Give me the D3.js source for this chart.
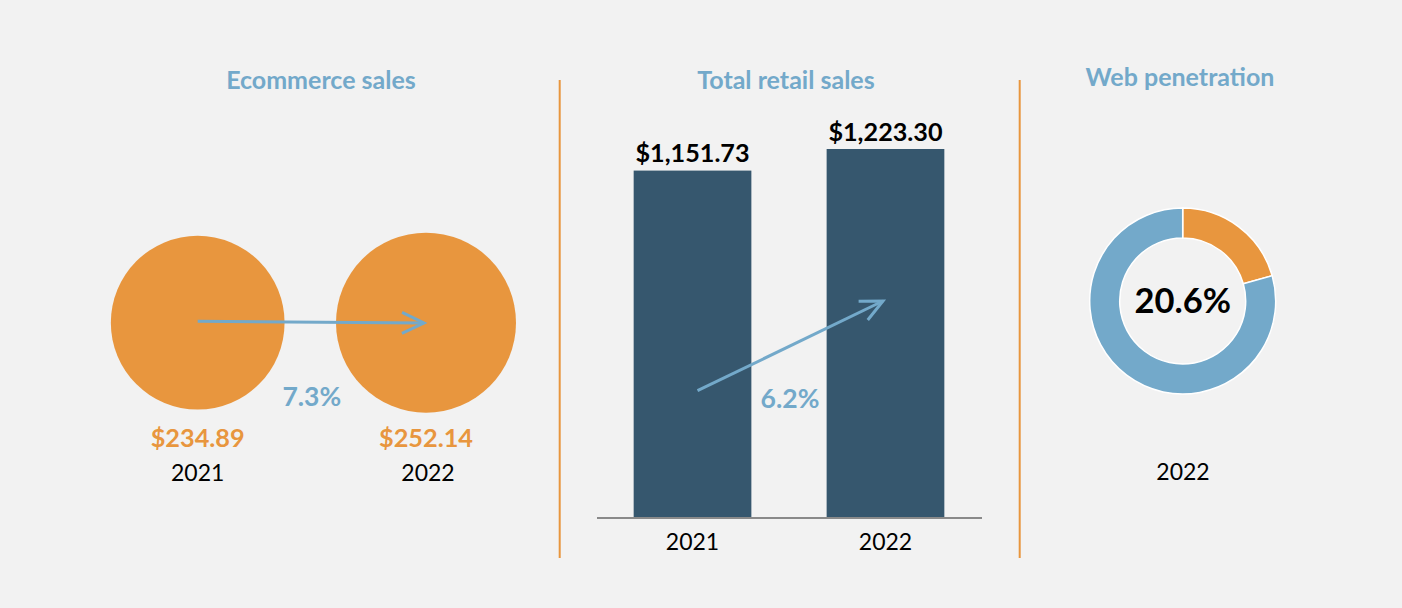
<!DOCTYPE html>
<html>
<head>
<meta charset="utf-8">
<script src="https://cdn.jsdelivr.net/npm/d3@7"></script>
<style>
  html, body { margin: 0; padding: 0; background: #f2f2f2; }
  svg { display: block; font-family: Lato, "Noto Sans", sans-serif; }
</style>
</head>
<body>
<svg id="chart" width="1402" height="608"></svg>
<script>
// ---------- data ----------
const titles = ["Ecommerce sales", "Total retail sales", "Web penetration"];
const ecomYears = ["2021", "2022"];
const ecomSales = [234.89, 252.14];
const ecomGrowth = "7.3%";
const retailYears = ["2021", "2022"];
const retailSales = [1151.73, 1223.30];
const retailGrowth = "6.2%";
const penetrationYear = "2022";
const penetrationShares = [20.6, 79.4];
const penetrationLabel = "20.6%";

// ---------- style ----------
const C = {
  bg: "#f2f2f2",
  orange: "#e8963e",
  blue: "#73a9ca",
  bar: "#36576e",
  axis: "#8a8a8a",
  text: "#000000"
};

const svg = d3.select("#chart");
svg.append("rect").attr("width", 1402).attr("height", 608).attr("fill", C.bg);

// arrowhead marker
const defs = svg.append("defs");
defs.append("marker")
  .attr("id", "chev")
  .attr("markerUnits", "userSpaceOnUse")
  .attr("viewBox", "-26 -14 30 28")
  .attr("refX", 0).attr("refY", 0)
  .attr("markerWidth", 30).attr("markerHeight", 28)
  .attr("orient", "auto")
  .append("path")
  .attr("d", "M-22,-10.5L0,0L-22,10.5")
  .attr("fill", "none")
  .attr("stroke", C.blue)
  .attr("stroke-width", 3)
  .attr("stroke-linecap", "butt")
  .attr("stroke-linejoin", "miter");

// titles
const titlePos = [[321, 89], [786, 89], [1180, 86]];
svg.selectAll("text.title").data(titles).join("text")
  .attr("class", "title")
  .attr("x", (d, i) => titlePos[i][0])
  .attr("y", (d, i) => titlePos[i][1])
  .attr("text-anchor", "middle")
  .attr("font-size", 25)
  .attr("font-weight", 700)
  .attr("fill", C.blue)
  .text(d => d);

// separators
[559.7, 1019.7].forEach(x => {
  svg.append("line")
    .attr("x1", x).attr("x2", x).attr("y1", 80).attr("y2", 558)
    .attr("stroke", C.orange).attr("stroke-width", 2);
});

// ---------- panel 1: ecommerce bubbles ----------
const p1 = svg.append("g");
const x1 = d3.scalePoint().domain(ecomYears).range([197.7, 426]);
const r1 = d3.scaleSqrt().domain([0, d3.max(ecomSales)]).range([0, 90]);
const cy1 = 322.7;
const ecom = ecomYears.map((y, i) => ({ year: y, value: ecomSales[i] }));

p1.selectAll("circle").data(ecom).join("circle")
  .attr("cx", d => x1(d.year))
  .attr("cy", cy1)
  .attr("r", d => r1(d.value))
  .attr("fill", C.orange);

p1.append("line")
  .attr("x1", x1(ecomYears[0])).attr("y1", cy1 - 1.5)
  .attr("x2", x1(ecomYears[1]) - 2).attr("y2", cy1 + 0.3)
  .attr("stroke", C.blue).attr("stroke-width", 3)
  .attr("marker-end", "url(#chev)");

p1.append("text")
  .attr("x", (x1(ecomYears[0]) + x1(ecomYears[1])) / 2)
  .attr("y", 406)
  .attr("text-anchor", "middle")
  .attr("font-size", 26.5).attr("font-weight", 700)
  .attr("fill", C.blue)
  .text(ecomGrowth);

p1.selectAll("text.val").data(ecom).join("text")
  .attr("class", "val")
  .attr("x", d => x1(d.year)).attr("y", 447)
  .attr("text-anchor", "middle")
  .attr("font-size", 25.3).attr("font-weight", 700)
  .attr("fill", C.orange)
  .text(d => "$" + d3.format(".2f")(d.value));

p1.selectAll("text.yr").data(ecom).join("text")
  .attr("class", "yr")
  .attr("x", d => x1(d.year) + (d.year === "2022" ? 2 : 0)).attr("y", 481)
  .attr("text-anchor", "middle")
  .attr("font-size", 23)
  .attr("fill", C.text)
  .text(d => d.year);

// ---------- panel 2: retail bars ----------
const p2 = svg.append("g");
const x2 = d3.scaleBand().domain(retailYears).range([597, 981])
  .paddingInner(0.39).paddingOuter(0.19);
const baseY = 518;
const y2 = d3.scaleLinear().domain([0, d3.max(retailSales)]).range([baseY, 149]);
const retail = retailYears.map((y, i) => ({ year: y, value: retailSales[i] }));

p2.selectAll("rect").data(retail).join("rect")
  .attr("x", d => x2(d.year))
  .attr("y", d => y2(d.value))
  .attr("width", x2.bandwidth())
  .attr("height", d => baseY - y2(d.value))
  .attr("fill", C.bar);

const ax = p2.append("g")
  .attr("transform", `translate(0,${baseY})`)
  .call(d3.axisBottom(x2).tickSize(0).tickSizeOuter(0));
ax.select(".domain").attr("stroke", C.axis).attr("stroke-width", 2)
  .attr("d", "M597,0H982");
ax.selectAll("text")
  .attr("y", 32).attr("dy", 0)
  .attr("font-family", "Lato, 'Noto Sans', sans-serif")
  .attr("font-size", 23).attr("fill", C.text);

p2.selectAll("text.val").data(retail).join("text")
  .attr("class", "val")
  .attr("x", d => x2(d.year) + x2.bandwidth() / 2)
  .attr("y", d => y2(d.value) - 8.5)
  .attr("text-anchor", "middle")
  .attr("font-size", 25.2).attr("font-weight", 700)
  .attr("fill", C.text)
  .text(d => "$" + d3.format(",.2f")(d.value));

const c0 = x2(retailYears[0]) + x2.bandwidth() / 2;
const c1 = x2(retailYears[1]) + x2.bandwidth() / 2;
p2.append("line")
  .attr("x1", c0 + 5).attr("y1", 390.7)
  .attr("x2", c1 - 2.5).attr("y2", 301)
  .attr("stroke", C.blue).attr("stroke-width", 3)
  .attr("marker-end", "url(#chev)");

p2.append("text")
  .attr("x", (c0 + c1) / 2 + 1)
  .attr("y", 408)
  .attr("text-anchor", "middle")
  .attr("font-size", 26.5).attr("font-weight", 700)
  .attr("fill", C.blue)
  .text(retailGrowth);

// ---------- panel 3: donut ----------
const p3 = svg.append("g").attr("transform", "translate(1182.7,301)");
const pie = d3.pie().sort(null).value(d => d);
const arc = d3.arc().innerRadius(63).outerRadius(93);
const donutColors = [C.orange, C.blue];
p3.selectAll("path").data(pie(penetrationShares)).join("path")
  .attr("d", arc)
  .attr("fill", (d, i) => donutColors[i])
  .attr("stroke", "#ffffff").attr("stroke-width", 1.5);

p3.append("text")
  .attr("x", 0).attr("y", 12.3)
  .attr("text-anchor", "middle")
  .attr("font-size", 34.5).attr("font-weight", 700)
  .attr("fill", C.text)
  .text(penetrationLabel);

svg.append("text")
  .attr("x", 1183).attr("y", 480)
  .attr("text-anchor", "middle")
  .attr("font-size", 23)
  .attr("fill", C.text)
  .text(penetrationYear);
</script>
</body>
</html>
